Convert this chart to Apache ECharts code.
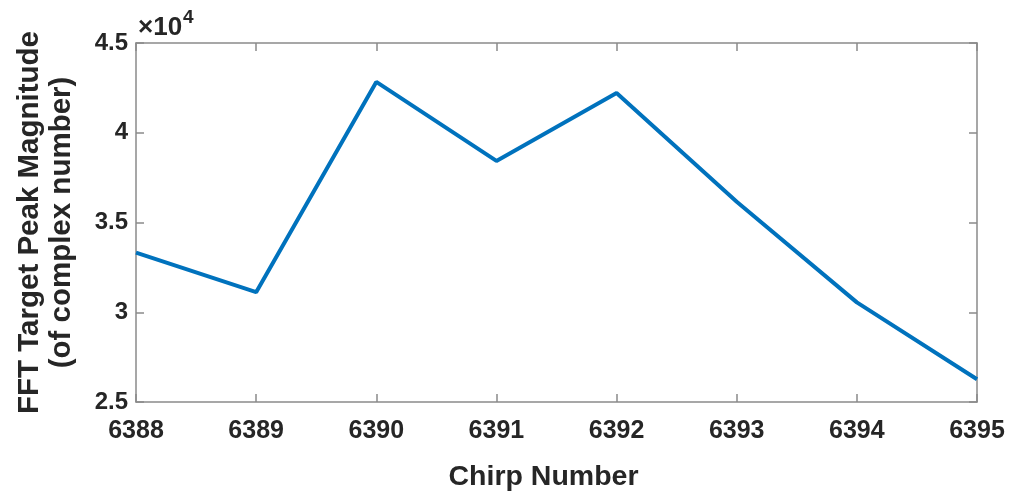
<!DOCTYPE html>
<html><head><meta charset="utf-8">
<script src="https://cdn.jsdelivr.net/npm/echarts@6/dist/echarts.min.js"></script>
<style>html,body{margin:0;padding:0;background:#fff}#c{width:1009px;height:497px}</style>
</head><body><div id="c"></div>
<script>
const chirps = [6388, 6389, 6390, 6391, 6392, 6393, 6394, 6395];
const magnitudes = [3.332, 3.112, 4.283, 3.843, 4.222, 3.616, 3.055, 2.627]; // x10^4
const yTickLabels = {2.5:'2.5',3:'3',3.5:'3.5',4:'4',4.5:'4.5'};
const FONT = '"Liberation Sans", Arial, sans-serif';
const TXT = '#262626';
const AX = '#8a8a8a';
const chart = echarts.init(document.getElementById('c'));
const axisCommon = {
  axisLine:{show:true,lineStyle:{color:AX,width:1.5}},
  axisTick:{show:true,inside:true,length:8,lineStyle:{color:AX,width:1.5}},
  splitLine:{show:false}
};
chart.setOption({
  animation:false,
  grid:{left:136,right:32,top:43,bottom:91,containLabel:false},
  xAxis:[
    Object.assign({type:'value',min:6388,max:6395,interval:1,position:'bottom',
      name:'Chirp Number',nameLocation:'middle',nameGap:61,
      nameTextStyle:{fontFamily:FONT,fontWeight:'bold',fontSize:28.5,color:TXT,padding:[0,26,0,0]},
      axisLabel:{fontFamily:FONT,fontWeight:'bold',fontSize:25,color:TXT,margin:17,
        formatter:v=>String(v)}},axisCommon),
    Object.assign({type:'value',min:6388,max:6395,interval:1,position:'top',axisLabel:{show:false}},axisCommon)
  ],
  yAxis:[
    Object.assign({type:'value',min:2.5,max:4.5,interval:0.5,position:'left',
      name:'FFT Target Peak Magnitude\n(of complex number)',nameLocation:'middle',nameGap:58,
      nameTextStyle:{fontFamily:FONT,fontWeight:'bold',fontSize:29.5,color:TXT,lineHeight:32},
      axisLabel:{fontFamily:FONT,fontWeight:'bold',fontSize:24,color:TXT,margin:8,
        formatter:v=>yTickLabels[v]||String(v)}},axisCommon),
    Object.assign({type:'value',min:2.5,max:4.5,interval:0.5,position:'right',axisLabel:{show:false}},axisCommon)
  ],
  graphic:[{type:'text',left:138,top:8,style:{
    text:'{a|×10}{b|4}',fontFamily:FONT,
    rich:{a:{fontFamily:FONT,fontSize:26,fontWeight:'bold',fill:TXT,verticalAlign:'bottom'},
          b:{fontFamily:FONT,fontSize:19,fontWeight:'bold',fill:TXT,verticalAlign:'top',padding:[0,0,14,1]}}}}],
  series:[{type:'line',data:chirps.map((c,i)=>[c,magnitudes[i]]),showSymbol:false,
    lineStyle:{color:'#0072BD',width:4},itemStyle:{color:'#0072BD'}}]
});
</script></body></html>
